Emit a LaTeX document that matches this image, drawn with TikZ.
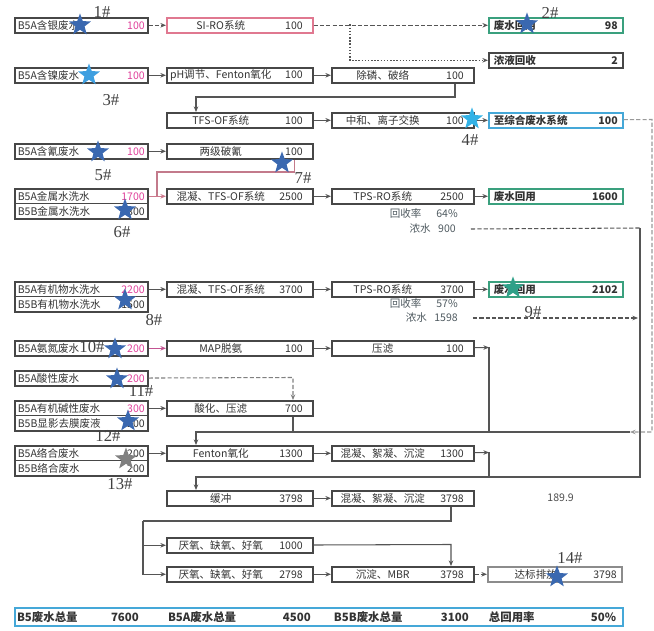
\documentclass[tikz,border=0pt]{standalone}
\usepackage{fontspec}
\setmainfont{Noto Sans CJK SC}
\newfontfamily\tagfont{Liberation Serif}
\usetikzlibrary{arrows.meta,shapes.geometric,calc}

\definecolor{magA}{HTML}{E0409A}
\definecolor{roPink}{HTML}{E07890}
\definecolor{reuseGreen}{HTML}{3AA07E}
\definecolor{sysBlue}{HTML}{45A8D8}
\definecolor{starBlue}{HTML}{3A68B0}
\definecolor{starLight}{HTML}{3E9FE0}
\definecolor{starGreen}{HTML}{2FA088}
\definecolor{lineGray}{HTML}{555555}
\definecolor{noteGray}{HTML}{4F5A60}

% push the value to the right end of a box
\newcommand{\fillgap}{\hspace{0pt plus 1filll}}

\tikzset{
  box/.style={draw=black!72, line width=0.9pt, anchor=north west, minimum height=0.3cm,
    inner ysep=0pt, align=left, font=\fontsize{6}{8.5}\selectfont, text=black!80},
  srcbox/.style={box, text width=2.54cm, inner xsep=0.06cm},
  twobox/.style={srcbox, minimum height=0.6cm},
  probox/.style={box, text width=2.52cm, inner xsep=0.2cm},
  tpsbox/.style={box, text width=2.44cm, inner xsep=0.2cm},
  outbox/.style={box, text width=2.48cm, inner xsep=0.1cm, font=\bfseries\fontsize{6}{8.5}\selectfont},
  wire/.style={draw=lineGray, line width=0.6pt},
  flow/.style={wire, ->},
  dashflow/.style={flow, dash pattern=on 2.4pt off 1.2pt},
  dotflow/.style={flow, dash pattern=on 0.8pt off 1pt},
  note/.style={anchor=east, font=\fontsize{6}{7}\selectfont, text=noteGray},
  tagstar/.style={star, star points=5, star point ratio=2.4, minimum size=0.46cm,
    inner sep=0pt, fill=starBlue, draw=none},
  tag/.style={font=\tagfont\fontsize{9.5}{9.5}\selectfont, text=black!75, inner sep=0pt}
}

\begin{document}
\begin{tikzpicture}[x=0.02cm, y=-0.02cm, >={Stealth[length=3.2pt,width=2.6pt]}]
    \useasboundingbox (0,0) rectangle (654,631);

    % ==================== 废水来源 ====================
    \node[srcbox] (src-ag) at (14,17) {B5A含银废水\fillgap\textcolor{magA}{100}\hspace{0.12cm}};
    \node[srcbox] (src-ni) at (14,67) {B5A含镍废水\fillgap\textcolor{magA}{100}\hspace{0.12cm}};
    \node[srcbox] (src-cn) at (14,143) {B5A含氰废水\fillgap\textcolor{magA}{100}\hspace{0.12cm}};
    \node[twobox] (src-metal) at (14,188) {B5A金属水洗水\fillgap\textcolor{magA}{1700}\hspace{0.12cm}\\B5B金属水洗水\fillgap 800\hspace{0.12cm}};
    \node[twobox] (src-org) at (14,281) {B5A有机物水洗水\fillgap\textcolor{magA}{2200}\hspace{0.12cm}\\B5B有机物水洗水\fillgap 1500\hspace{0.12cm}};
    \node[srcbox] (src-nh) at (14,340) {B5A氨氮废水\fillgap\textcolor{magA}{200}\hspace{0.12cm}};
    \node[srcbox] (src-acid) at (14,370) {B5A酸性废水\fillgap\textcolor{magA}{200}\hspace{0.12cm}};
    \node[twobox] (src-alk) at (14,400) {B5A有机碱性废水\fillgap\textcolor{magA}{300}\hspace{0.12cm}\\B5B显影去膜废液\fillgap 200\hspace{0.12cm}};
    \node[twobox] (src-cx) at (14,445) {B5A络合废水\fillgap 200\hspace{0.12cm}\\B5B络合废水\fillgap 200\hspace{0.12cm}};
    \foreach \s in {src-metal,src-org,src-alk,src-cx}
        \draw[draw=black!72, line width=0.6pt] (\s.west) -- (\s.east);

    % ==================== 一级处理 ====================
    \node[probox, draw=roPink] (p-siro) at (166,17) {\makebox[1.76cm]{SI-RO系统}\fillgap 100};
    \node[probox] (p-ph) at (166,67) {\makebox[1.76cm]{pH调节、Fenton氧化}\fillgap 100};
    \node[probox] (p-tfs) at (166,112) {\makebox[1.76cm]{TFS-OF系统}\fillgap 100};
    \node[probox] (p-cn2) at (166,143) {\makebox[1.76cm]{两级破氰}\fillgap 100};
    \node[probox] (p-coag1) at (166,188) {\makebox[1.76cm]{混凝、TFS-OF系统}\fillgap 2500};
    \node[probox] (p-coag2) at (166,281) {\makebox[1.76cm]{混凝、TFS-OF系统}\fillgap 3700};
    \node[probox] (p-map) at (166,340) {\makebox[1.76cm]{MAP脱氨}\fillgap 100};
    \node[probox] (p-acid) at (166,400) {\makebox[1.76cm]{酸化、压滤}\fillgap 700};
    \node[probox] (p-fenton) at (166,445) {\makebox[1.76cm]{Fenton氧化}\fillgap 1300};
    \node[probox] (p-buffer) at (166,490) {\makebox[1.76cm]{缓冲}\fillgap 3798};
    \node[probox] (p-ao1) at (166,537) {\makebox[1.76cm]{厌氧、缺氧、好氧}\fillgap 1000};
    \node[probox] (p-ao2) at (166,566) {\makebox[1.76cm]{厌氧、缺氧、好氧}\fillgap 2798};

    % ==================== 二级处理 ====================
    \node[tpsbox] (q-dephos) at (331,67) {\makebox[1.64cm]{除磷、破络}\fillgap 100};
    \node[tpsbox] (q-neut) at (331,112) {\makebox[1.64cm]{中和、离子交换}\fillgap 100};
    \node[tpsbox] (q-ro1) at (331,188) {\makebox[1.64cm]{TPS-RO系统}\fillgap 2500};
    \node[tpsbox] (q-ro2) at (331,281) {\makebox[1.64cm]{TPS-RO系统}\fillgap 3700};
    \node[tpsbox] (q-press) at (331,340) {\makebox[1.64cm]{压滤}\fillgap 100};
    \node[tpsbox] (q-floc1) at (331,445) {\makebox[1.64cm]{混凝、絮凝、沉淀}\fillgap 1300};
    \node[tpsbox] (q-floc2) at (331,490) {\makebox[1.64cm]{混凝、絮凝、沉淀}\fillgap 3798};
    \node[tpsbox] (q-mbr) at (331,566) {\makebox[1.64cm]{沉淀、MBR}\fillgap 3798};

    % 回收率与浓水
    \node[note] (n-rate1) at (464,213) {回收率\hspace{0.3cm}64\%};
    \node[note] (n900) at (462,229) {浓水\hspace{0.15cm}900};
    \node[note] (n-rate2) at (464,303) {回收率\hspace{0.3cm}57\%};
    \node[note] (n1598) at (464,318) {浓水\hspace{0.15cm}1598};
    \node[note, text=black!70] (n-1899) at (580,498) {189.9};

    % ==================== 去向 ====================
    \node[outbox, draw=reuseGreen] (r-reuse0) at (488,17) {废水回用\fillgap 98\hspace{0.1cm}};
    \node[outbox] (r-conc) at (488,52) {浓液回收\fillgap 2\hspace{0.1cm}};
    \node[outbox, draw=sysBlue] (r-comp) at (488,112) {至综合废水系统\fillgap 100\hspace{0.1cm}};
    \node[outbox, draw=reuseGreen] (r-reuse1) at (488,188) {废水回用\fillgap 1600\hspace{0.1cm}};
    \node[outbox, draw=reuseGreen] (r-reuse2) at (488,281) {废水回用\fillgap 2102\hspace{0.1cm}};
    \node[outbox, draw=black!45, font=\fontsize{6}{8.5}\selectfont] (r-dis) at (487,566) {\makebox[1.72cm]{达标排放}\fillgap 3798};

    % 总量
    \node[box, draw=sysBlue, line width=1.2pt, minimum height=0.36cm, text width=12.08cm, inner xsep=0.04cm,
          font=\bfseries\fontsize{6.5}{8}\selectfont] (total) at (14,607)
        {\makebox[1.88cm][l]{B5废水总量}\makebox[1.14cm][l]{7600}\makebox[2.30cm][l]{B5A废水总量}\makebox[1.02cm][l]{4500}\makebox[2.14cm][l]{B5B废水总量}\makebox[0.96cm][l]{3100}\makebox[2.04cm][l]{总回用率}50\%};

    % ==================== 连线 ====================
    % 含银
    \coordinate (j-siro) at (350,24.5);
    \draw[dashflow] (src-ag) -- (p-siro);
    \draw[dashflow] (p-siro) -- (r-reuse0);
    \draw[dotflow] (j-siro) |- (r-conc);

    % 含镍
    \coordinate (j-dephos) at (455,97);
    \draw[flow] (src-ni) -- (p-ph);
    \draw[flow] (p-ph) -- (q-dephos);
    \draw[flow] (q-dephos.south -| j-dephos) -- (j-dephos) -| ($(p-tfs.north west)+(30,0)$);
    \draw[flow] (p-tfs) -- (q-neut);
    \draw[flow] (q-neut) -- (r-comp);

    % 含氰
    \coordinate (j-cn) at (157,172);
    \draw[flow] (src-cn) -- (p-cn2);
    \draw[wire, draw=roPink!70!gray] ($(p-cn2.south east)+(-19,0)$) |- (j-cn) -- (j-cn |- p-coag1);
    \draw[flow, draw=roPink!80!gray] (src-metal.east |- p-coag1) -- (p-coag1);
    \draw[flow] (p-coag1) -- (q-ro1);
    \draw[flow] (q-ro1) -- (r-reuse1);

    % 有机物
    \draw[flow] (src-org.east |- p-coag2) -- (p-coag2);
    \draw[flow] (p-coag2) -- (q-ro2);
    \draw[flow] (q-ro2) -- (r-reuse2);
    \coordinate (j-c1598) at (638,318);
    \draw[dashflow] ([xshift=0.18cm]n1598.east) -- (j-c1598);

    % 氨氮、酸性、碱性、络合 -> Fenton
    \coordinate (j-fen) at (196,432);
    \coordinate (j-comp) at (652,119.5);
    \coordinate (j-press) at (489,347.5);
    \coordinate (j-acid) at (293,377.5);
    \draw[flow, draw=magA!70!gray] (src-nh) -- (p-map);
    \draw[flow] (p-map) -- (q-press);
    \draw[flow] (q-press) -- (j-press);
    \draw[wire] (j-press) -- (j-press |- j-fen);
    \draw[dashflow, draw=black!40] (r-comp) -- (j-comp) |- (630,432);
    \draw[flow] (630,432) -- (j-fen) -- (j-fen |- p-fenton.north);
    \draw[dashflow, draw=black!50] (src-acid) -- (j-acid) -- (j-acid |- p-acid.north);
    \draw[flow] (src-alk.east |- p-acid) -- (p-acid);
    \draw[wire] (j-acid |- p-acid.south) -- (j-acid |- j-fen);
    \draw[flow] (src-cx.east |- p-fenton) -- (p-fenton);
    \draw[flow] (p-fenton) -- (q-floc1);

    % 浓水 900 -> 缓冲
    \coordinate (j-c900) at (640,228);
    \coordinate (j-buf) at (196,477);
    \coordinate (j-floc1) at (489,452.5);
    \draw[dashflow, -] ([xshift=0.18cm]n900.east) -- (j-c900);
    \draw[flow] (j-c900) |- (j-buf) -- (j-buf |- p-buffer.north);
    \draw[flow] (q-floc1) -- (j-floc1);
    \draw[wire] (j-floc1) -- (j-floc1 |- j-buf);

    % 缓冲 -> 生化 -> 排放
    \coordinate (j-floc2) at (451,521);
    \coordinate (j-ao) at (143,521);
    \coordinate (j-mbr) at (451,544.5);
    \draw[flow] (p-buffer) -- (q-floc2);
    \draw[wire] (j-floc2 |- q-floc2.south) -- (j-floc2) -- (j-ao);
    \draw[flow] (j-ao) |- (p-ao2);
    \draw[flow] (j-ao |- p-ao1) -- (p-ao1);
    \draw[flow] (p-ao1) -- (j-mbr) -- (j-mbr |- q-mbr.north);
    \draw[flow] (p-ao2) -- (q-mbr);
    \draw[dashflow] (q-mbr) -- (r-dis);

    % ==================== 取样点 ====================
    \node[tagstar] (s1) at (80,25) {};
    \node[tagstar] (s2) at (527,24) {};
    \node[tagstar, fill=starLight] (s3) at (89,75) {};
    \node[tagstar, fill=starLight!80!cyan] (s4) at (472,119) {};
    \node[tagstar] (s5) at (98,152) {};
    \node[tagstar] (s6) at (125,210) {};
    \node[tagstar] (s7) at (282,163) {};
    \node[tagstar] (s8) at (125,300) {};
    \node[tagstar, fill=starGreen] (s9) at (513,288) {};
    \node[tagstar] (s10) at (115,349) {};
    \node[tagstar] (s11) at (117,379) {};
    \node[tagstar] (s12) at (128,421) {};
    \node[tagstar, fill=black!50] (s13) at (126,459) {};
    \node[tagstar] (s14) at (557,577) {};

    \node[tag] (t1) at (102,12) {1\#};
    \node[tag] (t2) at (550,13) {2\#};
    \node[tag] (t3) at (111,100) {3\#};
    \node[tag] (t4) at (470,140) {4\#};
    \node[tag] (t5) at (103,175) {5\#};
    \node[tag] (t6) at (122,232) {6\#};
    \node[tag] (t7) at (303,178) {7\#};
    \node[tag] (t8) at (154,320) {8\#};
    \node[tag] (t9) at (533,312) {9\#};
    \node[tag] (t10) at (92,347) {10\#};
    \node[tag] (t11) at (141,391) {11\#};
    \node[tag] (t12) at (108,436) {12\#};
    \node[tag] (t13) at (120,484) {13\#};
    \node[tag] (t14) at (570,558) {14\#};
\end{tikzpicture}
\end{document}
